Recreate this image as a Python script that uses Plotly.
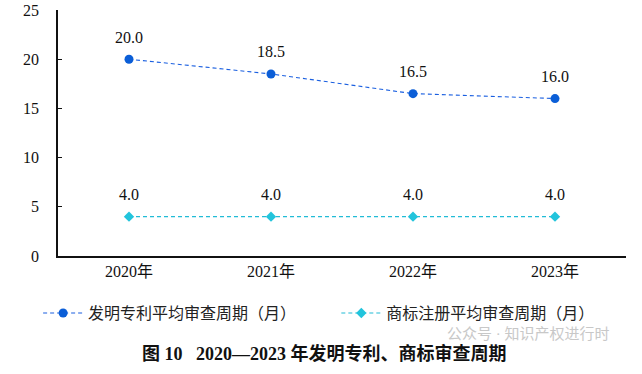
import plotly.graph_objects as go

years = ["2020年", "2021年", "2022年", "2023年"]
patent = [20.0, 18.5, 16.5, 16.0]
trademark = [4.0, 4.0, 4.0, 4.0]
y_ticks = [0, 5, 10, 15, 20, 25]

FONT = "Liberation Serif, Noto Sans CJK SC, serif"

fig = go.Figure()
fig.add_trace(go.Scatter(
    x=years, y=patent, name="发明专利平均审查周期（月）",
    mode="lines+markers", legend="legend",
    line=dict(color="#1a5fe0", width=1.1, dash="4px,3px"),
    marker=dict(symbol="circle", size=9, color="#0b5ed7"),
    cliponaxis=False,
))
fig.add_trace(go.Scatter(
    x=years, y=trademark, name="商标注册平均审查周期（月）",
    mode="lines+markers", legend="legend2",
    line=dict(color="#22bcd6", width=1.1, dash="4px,3px"),
    marker=dict(symbol="diamond", size=8, color="#22c4dc"),
    cliponaxis=False,
))

for series in (patent, trademark):
    for xv, yv in zip(years, series):
        fig.add_annotation(x=xv, y=yv, text=f"{yv:.1f}", showarrow=False,
                           yshift=22, font=dict(family=FONT, size=16, color="#111"))

legend_style = dict(orientation="h", y=-0.232, yanchor="middle", xanchor="left",
                    font=dict(family=FONT, size=16, color="#222"),
                    itemwidth=40, bgcolor="rgba(0,0,0,0)")

fig.update_layout(
    width=642, height=374,
    margin=dict(l=58, r=16, t=10, b=118, autoexpand=False),
    paper_bgcolor="white", plot_bgcolor="white",
    font=dict(family=FONT, size=14, color="#111"),
    showlegend=True,
    legend=dict(x=-0.035, **legend_style),
    legend2=dict(x=0.49, **legend_style),
    xaxis=dict(
        type="category", range=[-0.5, 3.5], automargin=False,
        showline=True, linecolor="#111", linewidth=1.5,
        showgrid=False, ticks="", tickfont=dict(family=FONT, size=16, color="#111"),
        zeroline=False,
    ),
    yaxis=dict(
        range=[0, 25], tickvals=y_ticks, automargin=False,
        showline=True, linecolor="#111", linewidth=1.5,
        showgrid=False, ticks="inside", ticklen=4, tickcolor="#111",
        tickfont=dict(family=FONT, size=16, color="#111"),
        zeroline=False, ticklabelstandoff=14, ticklabeloverflow="allow",
    ),
)

fig.add_annotation(
    text="公众号 · 知识产权进行时",
    xref="paper", yref="paper", x=1.0, y=-0.317, xanchor="right", yanchor="middle",
    xshift=-14, showarrow=False, font=dict(family=FONT, size=15, color="#c8c8c8"),
)
fig.add_annotation(
    text="<b>图 10   2020—2023 年发明专利、商标审查周期</b>",
    xref="paper", yref="paper", x=0.47, y=-0.395, xanchor="center", yanchor="middle",
    showarrow=False, font=dict(family=FONT, size=18, color="#111"),
)

fig.write_html("out.html", config={"displayModeBar": False},
               post_script="document.body.style.margin='0';")
